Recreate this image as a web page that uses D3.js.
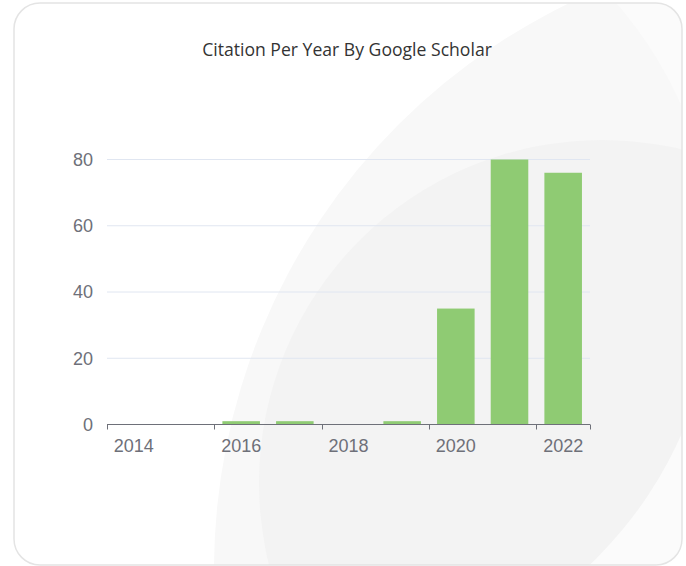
<!DOCTYPE html>
<html>
<head>
<meta charset="utf-8">
<script src="https://cdn.jsdelivr.net/npm/d3@7"></script>
<style>
  body { margin: 0; background: #fff; }
  svg { display: block; }
</style>
</head>
<body>
<script>
// citation counts per year
const years = ["2014", "2015", "2016", "2017", "2018", "2019", "2020", "2021", "2022"];
const citations = [0, 0, 1, 1, 0, 1, 35, 80, 76];
const yTicks = [0, 20, 40, 60, 80];
const xLabels = ["2014", "2016", "2018", "2020", "2022"];
const title = "Citation Per Year By Google Scholar";

const W = 686, H = 566;
const svg = d3.select("body").append("svg")
    .attr("width", W)
    .attr("height", H);

// card + decorative background circles
const defs = svg.append("defs");
defs.append("clipPath").attr("id", "card")
    .append("rect")
    .attr("x", 14).attr("y", 3)
    .attr("width", 668).attr("height", 562)
    .attr("rx", 26);

svg.append("rect")
    .attr("x", 14).attr("y", 3)
    .attr("width", 668).attr("height", 562)
    .attr("rx", 26)
    .attr("fill", "#fff");

const bg = svg.append("g").attr("clip-path", "url(#card)");
bg.append("circle").attr("cx", 844).attr("cy", 570).attr("r", 630).attr("fill", "#f8f8f8");
bg.append("circle").attr("cx", 602).attr("cy", 483).attr("r", 343).attr("fill", "#f3f3f3");
// lighter wedge in the bottom right corner
bg.append("path")
    .attr("d", "M14,3H682V565H14Z M716,270A407,407 0 1,0 -98,270A407,407 0 1,0 716,270Z")
    .attr("fill-rule", "evenodd")
    .attr("fill", "#fbfbfb");

svg.append("rect")
    .attr("x", 14).attr("y", 3)
    .attr("width", 668).attr("height", 562)
    .attr("rx", 26)
    .attr("fill", "none")
    .attr("stroke", "#e4e4e4")
    .attr("stroke-width", 1.5);

svg.append("text")
    .attr("x", 347)
    .attr("y", 56)
    .attr("text-anchor", "middle")
    .attr("font-family", "'Open Sans', sans-serif")
    .attr("font-size", 17.6)
    .attr("fill", "#333")
    .text(title);

// scales
const x = d3.scaleBand()
    .domain(years)
    .range([107, 590])
    .paddingInner(0.3)
    .paddingOuter(0.15);
const y = d3.scaleLinear()
    .domain([0, 80])
    .range([424.5, 159.5]);

const step = x.step();
const half = step * x.paddingInner() / 2;

// grid
svg.append("g").selectAll("line")
    .data(yTicks.filter(d => d > 0))
    .join("line")
    .attr("x1", 107).attr("x2", 590)
    .attr("y1", d => y(d)).attr("y2", d => y(d))
    .attr("stroke", "#e0e6f1");

svg.append("g").selectAll("text")
    .data(yTicks)
    .join("text")
    .attr("x", 93)
    .attr("y", d => y(d))
    .attr("dy", "0.36em")
    .attr("text-anchor", "end")
    .attr("font-family", "'Liberation Sans', Arial, sans-serif")
    .attr("font-size", 18)
    .attr("fill", "#6e7079")
    .text(d => d);

// bars
svg.append("g").selectAll("rect")
    .data(years.map((yr, i) => ({ yr, v: citations[i] })))
    .join("rect")
    .attr("x", d => x(d.yr))
    .attr("width", x.bandwidth())
    .attr("y", d => y(d.v))
    .attr("height", d => y(0) - y(d.v))
    .attr("fill", "#8fcb73");

// x axis
const ax = svg.append("g");
ax.append("line")
    .attr("x1", 107).attr("x2", 590)
    .attr("y1", y(0)).attr("y2", y(0))
    .attr("stroke", "#6e7079");
const tickXs = xLabels.map(d => Math.round(x(d) - half) + 0.5).concat([590.5]);
ax.selectAll("line.tick")
    .data(tickXs)
    .join("line")
    .attr("class", "tick")
    .attr("x1", d => d).attr("x2", d => d)
    .attr("y1", y(0)).attr("y2", y(0) + 5)
    .attr("stroke", "#6e7079");
ax.selectAll("text")
    .data(xLabels)
    .join("text")
    .attr("x", d => x(d) + x.bandwidth() / 2)
    .attr("y", 452)
    .attr("text-anchor", "middle")
    .attr("font-family", "'Liberation Sans', Arial, sans-serif")
    .attr("font-size", 18)
    .attr("fill", "#6e7079")
    .text(d => d);
</script>
</body>
</html>
